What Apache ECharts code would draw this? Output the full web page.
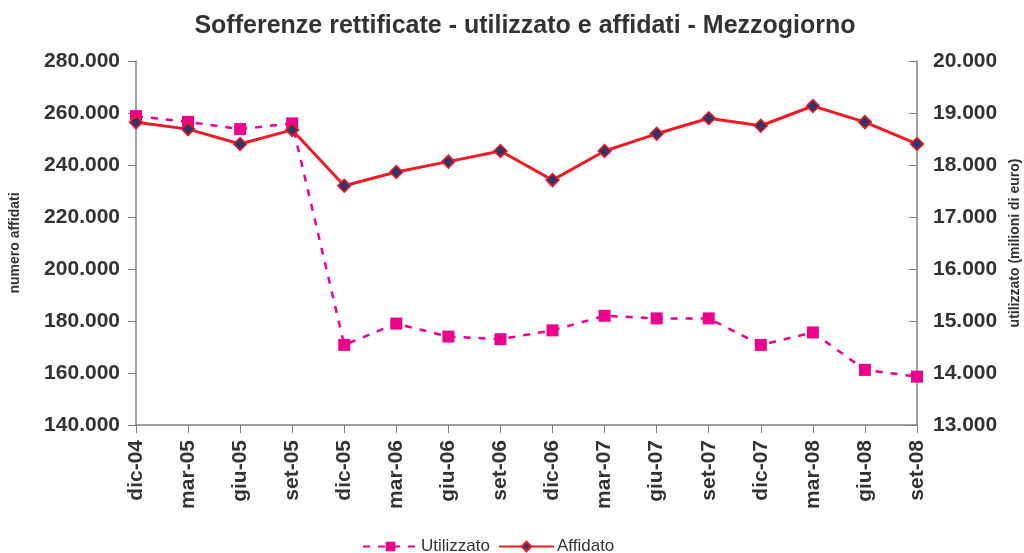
<!DOCTYPE html>
<html>
<head>
<meta charset="utf-8">
<script src="https://cdn.jsdelivr.net/npm/echarts@6/dist/echarts.min.js"></script>
<style>
  html, body { margin: 0; padding: 0; background: #fff; }
  #chart { width: 1024px; height: 553px; }
</style>
</head>
<body>
<div id="chart"></div>
<script>
// dati
const periodi = ["dic-04", "mar-05", "giu-05", "set-05", "dic-05", "mar-06", "giu-06", "set-06",
  "dic-06", "mar-07", "giu-07", "set-07", "dic-07", "mar-08", "giu-08", "set-08"];
// milioni di euro (asse destro)
const utilizzato = [18.94, 18.83, 18.69, 18.80, 14.54, 14.95, 14.70, 14.65,
  14.82, 15.10, 15.05, 15.05, 14.54, 14.78, 14.06, 13.93];
// numero affidati (asse sinistro)
const affidato = [256400, 253800, 248100, 253500, 232000, 237300, 241300, 245400,
  234200, 245400, 252000, 258000, 255100, 262700, 256500, 248100];
const tickSx = [140000, 280000, 20000];
const tickDx = [13, 20, 1];

const fmt = (v, dec) => {
  // separatore delle migliaia con il punto
  const n = dec ? Math.round(v * 1000) : Math.round(v);
  return String(n).replace(/\B(?=(\d{3})+(?!\d))/g, ".");
};

const font = "Liberation Sans, Arial, sans-serif";
const chart = echarts.init(document.getElementById("chart"));
const labelStyle = { color: "#333", fontSize: 21, fontWeight: "bold", fontFamily: font };
const nameStyle = { color: "#333", fontSize: 14, fontWeight: "bold", fontFamily: font };

chart.setOption({
  animation: false,
  backgroundColor: "#fff",
  title: {
    text: "Sofferenze rettificate - utilizzato e affidati - Mezzogiorno",
    left: 520, top: 9, textAlign: "center",
    textStyle: { color: "#333", fontSize: 25, fontWeight: "bold", fontFamily: font }
  },
  legend: {
    top: 533, left: 357, itemWidth: 55, itemHeight: 12, itemGap: 8,
    textStyle: { color: "#333", fontSize: 17, fontFamily: font, padding: [0, 0, 0, -2] },
    data: ["Utilizzato", "Affidato"]
  },
  grid: { left: 136, right: 107, top: 61, bottom: 128, containLabel: false, outerBoundsMode: "none" },
  xAxis: {
    type: "category",
    data: periodi,
    boundaryGap: false,
    axisLine: { lineStyle: { color: "#808080", width: 1.5 } },
    axisTick: { alignWithLabel: true, length: 8, lineStyle: { color: "#808080" } },
    axisLabel: Object.assign({ rotate: 90, margin: 15, interval: 0 }, labelStyle),
    splitLine: { show: false }
  },
  yAxis: [
    {
      type: "value", min: tickSx[0], max: tickSx[1], interval: tickSx[2], position: "left",
      name: "numero affidati", nameLocation: "middle", nameRotate: 90, nameGap: 114,
      nameTextStyle: nameStyle,
      axisLine: { show: true, lineStyle: { color: "#808080", width: 1.5 } },
      axisTick: { show: true, length: 8, lineStyle: { color: "#808080" } },
      axisLabel: Object.assign({ margin: 16, formatter: v => fmt(v, false) }, labelStyle),
      splitLine: { show: false }
    },
    {
      type: "value", min: tickDx[0], max: tickDx[1], interval: tickDx[2], position: "right",
      name: "utilizzato (milioni di euro)", nameLocation: "middle", nameRotate: 90, nameGap: 90,
      nameTextStyle: nameStyle,
      axisLine: { show: true, lineStyle: { color: "#808080", width: 1.5 } },
      axisTick: { show: true, length: 8, inside: true, lineStyle: { color: "#808080" } },
      axisLabel: Object.assign({ margin: 16, formatter: v => fmt(v, true) }, labelStyle),
      splitLine: { show: false }
    }
  ],
  series: [
    {
      name: "Utilizzato", type: "line", yAxisIndex: 1, data: utilizzato,
      symbol: "rect", symbolSize: 12,
      itemStyle: { color: "#EC008C" },
      lineStyle: { color: "#EC008C", width: 2.5, type: [7, 8] },
      z: 2
    },
    {
      name: "Affidato", type: "line", yAxisIndex: 0, data: affidato,
      symbol: "diamond", symbolSize: 13,
      itemStyle: { color: "#333366", borderColor: "#EE1C24", borderWidth: 1.5 },
      lineStyle: { color: "#EE1C24", width: 3 },
      z: 3
    }
  ]
});
</script>
</body>
</html>
